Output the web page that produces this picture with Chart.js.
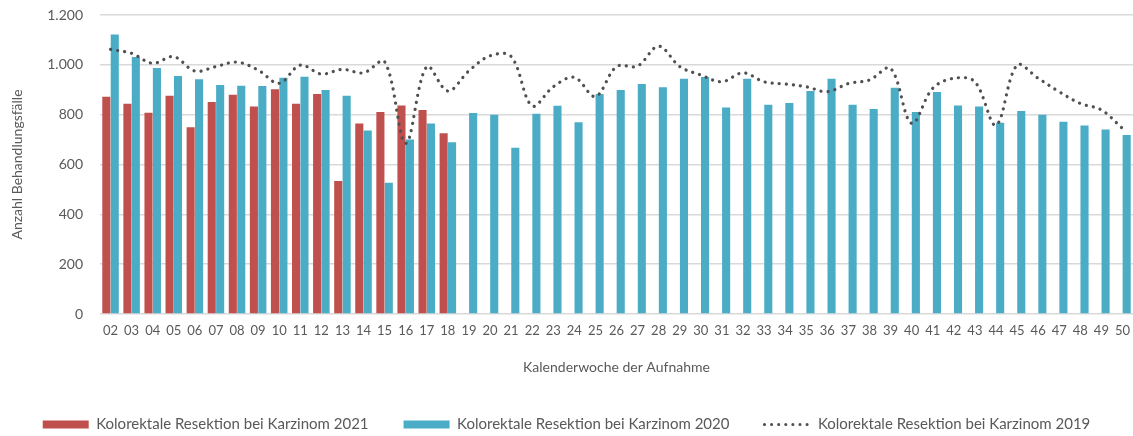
<!DOCTYPE html>
<html lang="de">
<head>
<meta charset="utf-8">
<title>Kolorektale Resektion bei Karzinom</title>
<script src="https://cdn.jsdelivr.net/npm/chart.js@4/dist/chart.umd.min.js"></script>
<style>
  html, body { margin: 0; padding: 0; background: #fff; }
  #wrap { position: relative; width: 1133px; height: 436px; }
</style>
</head>
<body>
<div id="wrap"><canvas id="chart"></canvas></div>
<script>
/* Kalenderwochen 02-50, Behandlungsfaelle je Woche */
var WEEKS = ['02','03','04','05','06','07','08','09','10','11','12','13','14','15','16','17','18',
  '19','20','21','22','23','24','25','26','27','28','29','30','31','32','33','34','35','36','37',
  '38','39','40','41','42','43','44','45','46','47','48','49','50'];

// 2021: only weeks 02-18 available
var CASES_2021 = [872, 844, 808, 876, 750, 851, 880, 833, 902, 844, 883, 534, 765, 811, 837, 819, 725];

var CASES_2020 = [1122, 1031, 987, 955, 942, 919, 916, 915, 948, 952, 899, 876, 736, 527, 700, 765, 689,
  807, 800, 667, 804, 836, 770, 883, 899, 923, 910, 944, 951, 829, 944, 840, 847, 895, 944, 840,
  823, 908, 811, 891, 837, 833, 768, 815, 800, 772, 757, 740, 718];

var CASES_2019 = [1062, 1046, 1006, 1033, 975, 993, 1011, 979, 926, 999, 963, 982, 968, 1013, 685, 993, 895,
  976, 1036, 1034, 835, 912, 950, 873, 993, 995, 1075, 993, 959, 932, 968, 932, 923, 912, 892, 925,
  939, 986, 765, 906, 946, 932, 758, 999, 946, 892, 845, 819, 745];

var Y_TICKS = [0, 200, 400, 600, 800, 1000, 1200];

var LABEL_2021 = 'Kolorektale Resektion bei Karzinom 2021';
var LABEL_2020 = 'Kolorektale Resektion bei Karzinom 2020';
var LABEL_2019 = 'Kolorektale Resektion bei Karzinom 2019';

(function() {
  'use strict';

  var COLORS = {
    red: '#C0504D',
    blue: '#4BACC6',
    dots: '#505050',
    grid: '#D9D9D9',
    text: '#595959'
  };
  var FONT = 'Lato, "Open Sans", sans-serif';

  function formatThousands(v) {
    return String(v).replace(/\B(?=(\d{3})+(?!\d))/g, '.');
  }

  var data2021 = WEEKS.map(function(w, i) { return i < CASES_2021.length ? CASES_2021[i] : null; });

  var datasets = [
    {
      type: 'bar', label: LABEL_2021, data: data2021,
      backgroundColor: COLORS.red, order: 1,
      categoryPercentage: 0.8, barPercentage: 0.96
    },
    {
      type: 'bar', label: LABEL_2020, data: CASES_2020,
      backgroundColor: COLORS.blue, order: 1,
      categoryPercentage: 0.8, barPercentage: 0.96
    },
    {
      type: 'line', label: LABEL_2019, data: CASES_2019,
      borderColor: COLORS.dots, backgroundColor: 'rgba(0,0,0,0)',
      borderWidth: 3.2, borderDash: [0.1, 7], borderCapStyle: 'round',
      tension: 0.35, pointRadius: 0, fill: false, order: 0
    }
  ];

  new Chart(document.getElementById('chart').getContext('2d'), {
    data: { labels: WEEKS, datasets: datasets },
    options: {
      responsive: true,
      maintainAspectRatio: false,
      animation: false,
      layout: { padding: { top: 0, right: 0, bottom: -6, left: 0 } },
      plugins: {
        tooltip: { enabled: false },
        legend: {
          position: 'bottom',
          labels: {
            usePointStyle: true, pointStyleWidth: 46, boxHeight: 8,
            padding: 35, color: COLORS.text,
            font: { family: FONT, size: 15 },
            generateLabels: function(chart) {
              return chart.data.datasets.map(function(ds, i) {
                var isLine = ds.type === 'line';
                return {
                  text: ds.label, datasetIndex: i, hidden: false,
                  fillStyle: isLine ? 'rgba(0,0,0,0)' : ds.backgroundColor,
                  strokeStyle: isLine ? ds.borderColor : ds.backgroundColor,
                  lineWidth: isLine ? 3 : 0,
                  lineDash: isLine ? [0.1, 7] : [],
                  lineCap: 'round',
                  pointStyle: isLine ? 'line' : 'rect',
                  fontColor: COLORS.text
                };
              });
            }
          }
        }
      },
      scales: {
        x: {
          grid: { display: false },
          border: { display: false },
          ticks: {
            color: COLORS.text, font: { family: FONT, size: 13 },
            autoSkip: false, maxRotation: 0, padding: 1
          },
          title: {
            display: true, text: 'Kalenderwoche der Aufnahme', color: COLORS.text,
            font: { family: FONT, size: 14 }, padding: { top: 4, bottom: 6 }
          },
          afterFit: function(scale) { scale.height = 68; }
        },
        y: {
          min: 0, max: 1200,
          afterBuildTicks: function(scale) {
            scale.ticks = Y_TICKS.map(function(v) { return { value: v }; });
          },
          grid: { color: COLORS.grid, lineWidth: 1.5, drawTicks: false },
          border: { display: false },
          ticks: {
            color: COLORS.text, font: { family: FONT, size: 14 }, padding: 17,
            callback: function(v) { return formatThousands(v); }
          },
          title: {
            display: true, text: 'Anzahl Behandlungsfälle', color: COLORS.text,
            font: { family: FONT, size: 14 }, padding: { top: 9, bottom: 0 }
          },
          afterFit: function(scale) {
            scale.width = 100;
            scale.paddingTop = 15;
          }
        }
      }
    }
  });
})();
</script>
</body>
</html>
